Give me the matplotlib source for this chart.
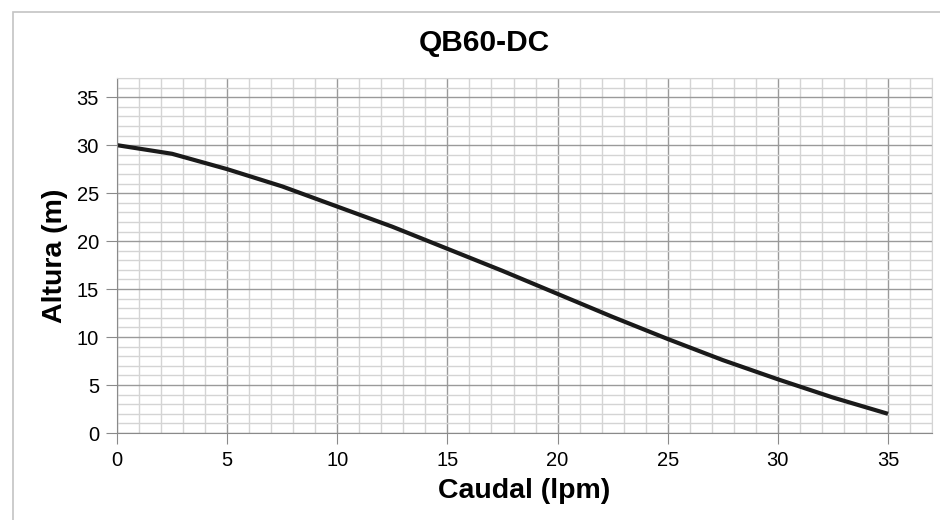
import matplotlib
matplotlib.use('Agg')
import matplotlib.pyplot as plt
from matplotlib.ticker import MultipleLocator
from matplotlib.patches import Rectangle

plt.rcParams['font.family'] = ['Liberation Sans', 'DejaVu Sans']

# Curva de la bomba QB60-DC
caudal = [0, 2.5, 5, 7.5, 10, 12.5, 15, 17.5, 20, 22.5, 25, 27.5, 30, 32.5, 35]
altura = [30.0, 29.1, 27.5, 25.7, 23.6, 21.5, 19.2, 16.9, 14.5, 12.1, 9.8, 7.6, 5.6, 3.7, 2.0]

fig = plt.figure(figsize=(9.4, 5.2), dpi=100)
ax = fig.add_axes([0.1245, 0.1673, 0.867, 0.6827])

# marco exterior gris claro
fig.patches.append(Rectangle((0.0135, -0.1), 1.1, 1.077, transform=fig.transFigure,
                             fill=False, edgecolor='#c4c4c4', linewidth=1.2))

ax.plot(caudal, altura, color='#1a1a1a', linewidth=3, solid_capstyle='butt',
        solid_joinstyle='round')

ax.set_xlim(0, 37)
ax.set_ylim(0, 37)
ax.xaxis.set_major_locator(MultipleLocator(5))
ax.yaxis.set_major_locator(MultipleLocator(5))
ax.xaxis.set_minor_locator(MultipleLocator(1))
ax.yaxis.set_minor_locator(MultipleLocator(1))

ax.grid(which='minor', color='#d4d4d4', linewidth=1)
ax.grid(which='major', color='#9a9a9a', linewidth=1)
ax.set_axisbelow(True)

for s in ax.spines.values():
    s.set_color('#d4d4d4')
ax.spines['left'].set_color('#8a8a8a')
ax.spines['bottom'].set_color('#8a8a8a')

ax.tick_params(which='major', direction='out', length=8, color='#8a8a8a',
               labelsize=14.5, pad=5)
ax.tick_params(which='minor', length=0)

fig.text(0.515, 0.918, 'QB60-DC', fontsize=21.5, fontweight='bold',
         ha='center', va='center')
ax.set_xlabel('Caudal (lpm)', fontsize=20.5, fontweight='bold', labelpad=6)
ax.set_ylabel('Altura (m)', fontsize=20.5, fontweight='bold', labelpad=6)

fig.savefig('out.png', dpi=100)
